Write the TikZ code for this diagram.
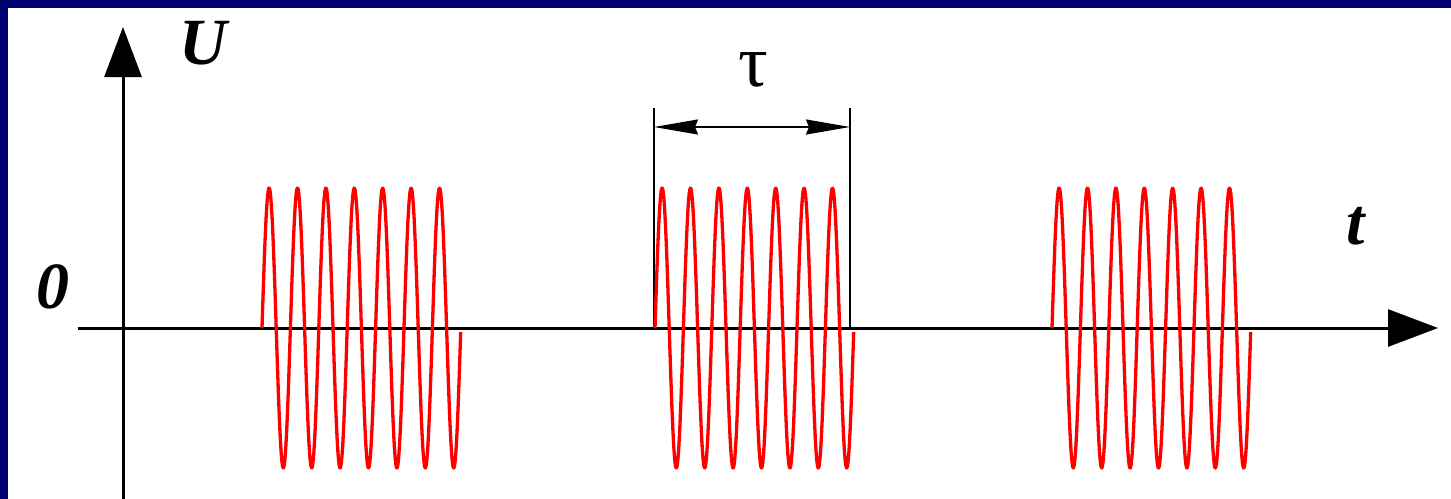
\documentclass[tikz,border=0pt]{standalone}
\usepackage{fontspec}
\setmainfont{Liberation Serif}
\usetikzlibrary{arrows.meta}
\definecolor{frameblue}{RGB}{0,0,112}
\tikzset{
  axisline/.style={line width=3pt, -{Triangle[length=50pt,width=37pt]}},
  extline/.style={line width=1.5pt},
  dimline/.style={line width=1.5pt, {Stealth[length=44pt,width=15pt,inset=3pt]}-{Stealth[length=44pt,width=15pt,inset=3pt]}},
  wave/.style={red, line width=3.3pt, line join=round},
  biglabel/.style={font=\fontsize{66}{70}\selectfont\bfseries\itshape, inner sep=0pt},
  taulabel/.style={font=\fontsize{74}{78}\selectfont, inner sep=0pt}
}
\begin{document}
\begin{tikzpicture}[x=1pt,y=-1pt]
\useasboundingbox (0,0) rectangle (1451,498);
\fill[white] (-10,-10) rectangle (1461,508);
\fill[frameblue] (-10,-10) rectangle (1461,8);
\fill[frameblue] (-10,-10) rectangle (8,508);
% axes
\coordinate (yb) at (123,500);
\coordinate (yt) at (123,27);
\coordinate (xl) at (78,328);
\coordinate (xr) at (1438,328);
\draw[axisline] (yb) -- (yt);
\draw[axisline] (xl) -- (xr);
% labels
\node[biglabel] (U) at (203,43) {U};
\node[biglabel] (zero) at (53,287) {0};
\node[biglabel] (t) at (1356,226) {t};
\node[taulabel] (tau) at (753,70) {τ};
% dimension
\coordinate (Lb) at (654,328);
\coordinate (Lt) at (654,108);
\coordinate (Rb) at (850,328);
\coordinate (Rt) at (850,108);
\coordinate (Ld) at (654,127);
\coordinate (Rd) at (850,127);
\draw[extline] (Lb) -- (Lt);
\draw[extline] (Rb) -- (Rt);
\draw[dimline] (Ld) -- (Rd);
% bursts
\foreach \s in {262,655,1052}{
  \draw[wave] plot[domain=0:7, samples=400, variable=\u] ({\s+28.4*\u}, {328-140*sin(360*\u)});
}
\end{tikzpicture}
\end{document}
